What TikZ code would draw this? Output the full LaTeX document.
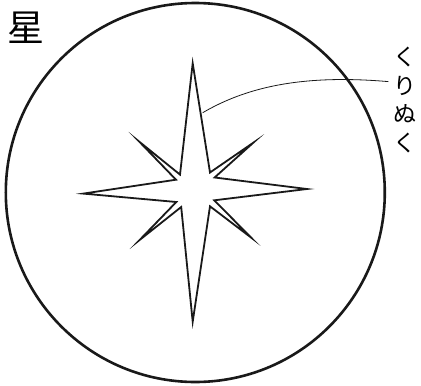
\documentclass[tikz,border=0pt]{standalone}
\usepackage{fontspec}
\newfontfamily\jpfont{Noto Sans CJK JP}
\begin{document}
\begin{tikzpicture}[x=1pt,y=-1pt,
  outline/.style={line width=2.6pt,draw=black!90},
  starline/.style={line width=1.8pt,draw=black!90,line join=miter,miter limit=20},
  leader/.style={line width=0.8pt,draw=black!90},
  jplabel/.style={inner sep=0pt,font=\jpfont}]
\useasboundingbox (0,0) rectangle (421,386);
\node[outline,circle,minimum size=379pt,inner sep=0pt] (disc) at (195.3,192.5) {};
\draw[starline] (192.7,63.3) -- (210,172.5) -- (253.3,142.7) -- (214.6,177.5)
  -- (307,189) -- (214.3,200.3) -- (251,237.5) -- (210,206.3)
  -- (192.7,321.7) -- (181.2,207) -- (139.6,240) -- (176.3,202)
  -- (83.3,193.6) -- (176,179.7) -- (139.3,141.7) -- (180,174.6) -- cycle;
\node[jplabel,font=\jpfont\fontsize{37}{37}\selectfont] (title) at (25.5,27.5) {星};
\node[jplabel,align=center,font=\jpfont\fontsize{23}{28.5}\selectfont] (kurinuku) at (405,100) {く\\り\\ぬ\\く};
\coordinate (tip) at (202.7,112.7);
\coordinate (lend) at (388.3,81.6);
\draw[leader] (tip) .. controls (245,88) and (300,74) .. (lend);
\end{tikzpicture}
\end{document}
